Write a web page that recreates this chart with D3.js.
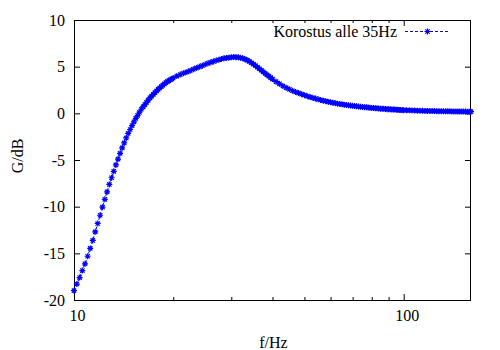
<!DOCTYPE html>
<html>
<head>
<meta charset="utf-8">
<script src="https://cdn.jsdelivr.net/npm/d3@7"></script>
<style>
  html, body { margin: 0; padding: 0; background: #ffffff; }
  svg { display: block; }
</style>
</head>
<body>
<script>
// Frequency response samples: frequency (Hz) and gain (dB)
const freqHz = [
  10.0, 10.2, 10.4, 10.6, 10.8, 11.0, 11.2, 11.4, 11.6, 11.8,
  12.0, 12.2, 12.4, 12.6, 12.8, 13.0, 13.2, 13.4, 13.6, 13.8,
  14.0, 14.2, 14.4, 14.6, 14.8, 15.0, 15.2, 15.4, 15.6, 15.8,
  16.0, 16.2, 16.4, 16.6, 16.8, 17.0, 17.2, 17.4, 17.6, 17.8,
  18.0, 18.2, 18.4, 18.6, 18.8, 19.0, 19.2, 19.4, 19.6, 19.8,
  20.0, 20.5, 21.0, 21.5, 22.0, 22.5, 23.0, 23.5, 24.0, 24.5,
  25.0, 25.5, 26.0, 26.5, 27.0, 27.5, 28.0, 28.5, 29.0, 29.5,
  30.0, 30.5, 31.0, 31.5, 32.0, 32.5, 33.0, 33.5, 34.0, 34.5,
  35.0, 35.5, 36.0, 36.5, 37.0, 37.5, 38.0, 38.5, 39.0, 39.5,
  40, 41, 42, 43, 44, 45, 46, 47, 48, 49,
  50, 51, 52, 53, 54, 55, 56, 57, 58, 59,
  60, 61, 62, 63, 64, 65, 66, 67, 68, 69,
  70, 71, 72, 73, 74, 75, 76, 77, 78, 79,
  80, 81, 82, 83, 84, 85, 86, 87, 88, 89,
  90, 91, 92, 93, 94, 95, 96, 97, 98, 99,
  100, 102, 104, 106, 108, 110, 112, 114, 116, 118,
  120, 122, 124, 126, 128, 130, 132, 134, 136, 138,
  140, 142, 144, 146, 148, 150, 152, 154, 156, 158, 160
];

const gainDb = [
  -19.00, -18.29, -17.60, -16.85, -16.12, -15.31, -14.47, -13.62, -12.70, -11.80,
  -10.92, -10.05, -9.21, -8.41, -7.62, -6.90, -6.21, -5.53, -4.90, -4.29,
  -3.70, -3.17, -2.64, -2.15, -1.73, -1.31, -0.91, -0.54, -0.21, 0.12,
  0.44, 0.70, 0.94, 1.18, 1.41, 1.66, 1.84, 2.03, 2.21, 2.39,
  2.57, 2.72, 2.87, 3.02, 3.16, 3.30, 3.40, 3.50, 3.60, 3.69,
  3.79, 3.99, 4.15, 4.30, 4.44, 4.57, 4.71, 4.85, 4.98, 5.11,
  5.23, 5.36, 5.46, 5.56, 5.66, 5.74, 5.82, 5.89, 5.94, 5.96,
  6.00, 6.03, 6.02, 6.00, 5.95, 5.89, 5.80, 5.70, 5.57, 5.42,
  5.28, 5.12, 4.95, 4.78, 4.62, 4.45, 4.28, 4.12, 3.97, 3.82,
  3.67, 3.39, 3.16, 2.93, 2.75, 2.58, 2.42, 2.29, 2.17, 2.05,
  1.95, 1.84, 1.74, 1.66, 1.58, 1.50, 1.43, 1.36, 1.30, 1.24,
  1.18, 1.14, 1.09, 1.04, 1.00, 0.96, 0.93, 0.89, 0.86, 0.83,
  0.80, 0.78, 0.75, 0.72, 0.70, 0.68, 0.66, 0.64, 0.62, 0.60,
  0.58, 0.57, 0.55, 0.54, 0.52, 0.50, 0.49, 0.48, 0.47, 0.45,
  0.44, 0.43, 0.42, 0.41, 0.40, 0.39, 0.38, 0.36, 0.36, 0.35,
  0.34, 0.33, 0.32, 0.31, 0.30, 0.29, 0.28, 0.27, 0.26, 0.26,
  0.25, 0.24, 0.24, 0.23, 0.22, 0.22, 0.21, 0.21, 0.21, 0.21,
  0.20, 0.20, 0.20, 0.20, 0.19, 0.19, 0.19, 0.19, 0.18, 0.18, 0.18
];

const xMajorTicks = [10, 100];
const xMinorTicks = [20, 30, 40, 50, 60, 70, 80, 90];
const yTicks = [-20, -15, -10, -5, 0, 5, 10];
const seriesName = "Korostus alle 35Hz";
const xTitle = "f/Hz";
const yTitle = "G/dB";

const W = 500, H = 350;
const plot = { left: 74, right: 471, top: 20, bottom: 300 };
const blue = "#0000ff";
const serif = "'Liberation Serif', 'Times New Roman', Times, 'DejaVu Serif', serif";

const svg = d3.select("body").append("svg")
  .attr("width", W).attr("height", H)
  .attr("font-family", serif)
  .attr("font-size", 16);

const x = d3.scaleLog().domain([10, 160]).range([plot.left, plot.right]);
const y = d3.scaleLinear().domain([-20, 10]).range([plot.bottom, plot.top]);

// Plain hyphen for negative numbers
const numFmt = d => String(d);

function styleAxis(g) {
  g.attr("font-family", serif).attr("font-size", 16);
  g.select(".domain").remove();
  g.selectAll(".tick line").attr("stroke", "#000").attr("stroke-width", 1);
  g.selectAll(".tick text").attr("fill", "#000");
}

// Bottom axis: major ticks with labels, minor ticks, all pointing inward
svg.append("g")
  .attr("transform", `translate(0,${plot.bottom})`)
  .call(d3.axisBottom(x).tickValues(xMajorTicks).tickFormat(numFmt)
    .tickSizeInner(-6).tickSizeOuter(0).tickPadding(10))
  .call(styleAxis)
  .call(g => g.selectAll(".tick text").attr("dx", 3));
svg.append("g")
  .attr("transform", `translate(0,${plot.bottom})`)
  .call(d3.axisBottom(x).tickValues(xMinorTicks).tickFormat("")
    .tickSizeInner(-3).tickSizeOuter(0))
  .call(styleAxis);

// Top mirror ticks
svg.append("g")
  .attr("transform", `translate(0,${plot.top})`)
  .call(d3.axisTop(x).tickValues(xMajorTicks).tickFormat("")
    .tickSizeInner(-6).tickSizeOuter(0))
  .call(styleAxis);
svg.append("g")
  .attr("transform", `translate(0,${plot.top})`)
  .call(d3.axisTop(x).tickValues(xMinorTicks).tickFormat("")
    .tickSizeInner(-3).tickSizeOuter(0))
  .call(styleAxis);

// Left axis with labels, right mirror ticks
svg.append("g")
  .attr("transform", `translate(${plot.left},0)`)
  .call(d3.axisLeft(y).tickValues(yTicks).tickFormat(numFmt)
    .tickSizeInner(-6).tickSizeOuter(0).tickPadding(9))
  .call(styleAxis);
svg.append("g")
  .attr("transform", `translate(${plot.right},0)`)
  .call(d3.axisRight(y).tickValues(yTicks).tickFormat("")
    .tickSizeInner(-6).tickSizeOuter(0))
  .call(styleAxis);

// Plot border
svg.append("rect")
  .attr("x", plot.left + 0.5).attr("y", plot.top + 0.5)
  .attr("width", plot.right - plot.left - 1).attr("height", plot.bottom - plot.top)
  .attr("fill", "none").attr("stroke", "#000").attr("stroke-width", 1);

// Axis titles
svg.append("text")
  .attr("transform", `translate(23,156) rotate(-90)`)
  .attr("text-anchor", "middle")
  .attr("fill", "#000")
  .text(yTitle);
svg.append("text")
  .attr("x", (plot.left + plot.right) / 2 + 1).attr("y", 348)
  .attr("text-anchor", "middle")
  .attr("fill", "#000")
  .text(xTitle);

// Star marker (plus and cross overlaid)
function starPath(r) {
  const k = r * 0.72;
  return `M${-r},0H${r}M0,${-r}V${r}M${-k},${-k}L${k},${k}M${-k},${k}L${k},${-k}`;
}

const data = freqHz.map((f, i) => ({ f, g: gainDb[i] }));

// Connecting dashed line
svg.append("path")
  .datum(data)
  .attr("fill", "none")
  .attr("stroke", blue)
  .attr("stroke-width", 1)
  .attr("stroke-dasharray", "3,2")
  .attr("d", d3.line().x(d => x(d.f)).y(d => y(d.g)));

// Point markers
svg.append("g")
  .selectAll("path")
  .data(data)
  .join("path")
  .attr("transform", d => `translate(${x(d.f)},${y(d.g)})`)
  .attr("d", starPath(3))
  .attr("fill", "none")
  .attr("stroke", blue)
  .attr("stroke-width", 1.2);

// Legend
const legend = svg.append("g");
legend.append("text")
  .attr("x", 397).attr("y", 37)
  .attr("text-anchor", "end")
  .attr("fill", "#000")
  .text(seriesName);
legend.append("line")
  .attr("x1", 405).attr("x2", 450).attr("y1", 31.5).attr("y2", 31.5)
  .attr("stroke", "#1010b0").attr("stroke-width", 1)
  .attr("stroke-dasharray", "3,2");
legend.append("path")
  .attr("transform", "translate(427.5,31.5)")
  .attr("d", starPath(3))
  .attr("fill", "none")
  .attr("stroke", blue)
  .attr("stroke-width", 1.2);
</script>
</body>
</html>
